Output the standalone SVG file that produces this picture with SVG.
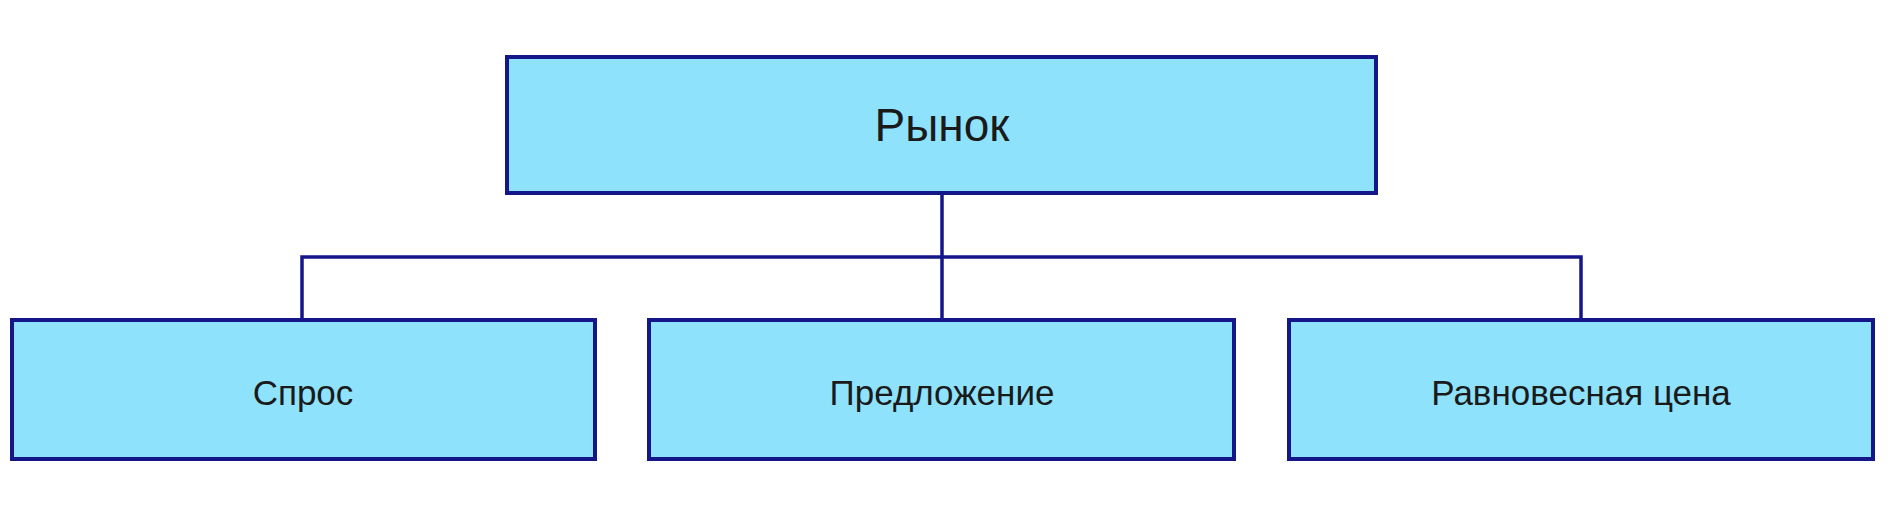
<svg xmlns="http://www.w3.org/2000/svg" width="1893" height="512" viewBox="0 0 1893 512">
<style>
.box{fill:#8ee2fc;stroke:#14168a;stroke-width:4}
.lbl{font-family:"Liberation Sans",Arial,sans-serif;fill:#1a1a1a;text-anchor:middle}
.con{fill:none;stroke:#14168a;stroke-width:3.5}
</style>
<rect width="1893" height="512" fill="#ffffff"/>
<g id="connectors">
<line class="con" x1="942" y1="193" x2="942" y2="320"/>
<polyline class="con" points="302,320 302,257 1581,257 1581,320"/>
</g>
<g id="rynok"><rect class="box" x="507" y="57" width="869" height="136"/><text class="lbl" x="942" y="141" font-size="46">Рынок</text></g>
<g id="spros"><rect class="box" x="12" y="320" width="583" height="139"/><text class="lbl" x="303" y="405" font-size="35">Спрос</text></g>
<g id="predlozhenie"><rect class="box" x="649" y="320" width="585" height="139"/><text class="lbl" x="942" y="405" font-size="35">Предложение</text></g>
<g id="cena"><rect class="box" x="1289" y="320" width="584" height="139"/><text class="lbl" x="1581" y="405" font-size="35">Равновесная  цена</text></g>
</svg>
